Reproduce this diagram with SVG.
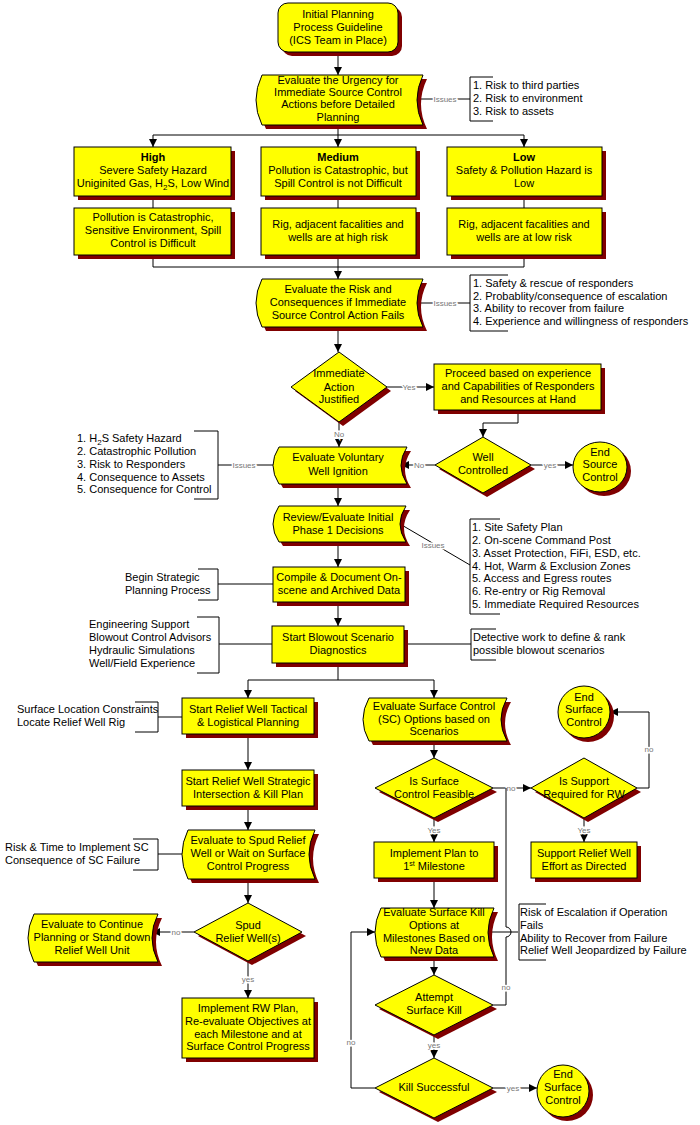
<svg xmlns="http://www.w3.org/2000/svg" width="700" height="1125" viewBox="0 0 700 1125">
<style>
.n{fill:#ffff00;stroke:#000;stroke-width:1}
.s{fill:#800000;stroke:none}
.t{font-family:"Liberation Sans",Arial,sans-serif;font-size:11px;fill:#000;text-anchor:middle}
.l{text-anchor:start}
.b{font-weight:bold}
.c{fill:none;stroke:#000;stroke-width:1}
.a{marker-end:url(#ah)}
.lb{font-family:"Liberation Sans",Arial,sans-serif;font-size:8px;fill:#777;text-anchor:middle;paint-order:stroke;stroke:#fff;stroke-width:3px}
</style>
<defs>
<marker id="ah" markerUnits="userSpaceOnUse" markerWidth="9" markerHeight="9" refX="8" refY="4" orient="auto">
<path d="M0,0 L8,4 L0,8 Z" fill="#000"/>
</marker>
</defs>
<rect width="700" height="1125" fill="#fff"/>

<g id="connectors">
<path class="c a" d="M338,52 V75"/>
<path class="c" d="M338,125 V135 M153,135 H524"/>
<path class="c a" d="M153,135 V147"/>
<path class="c a" d="M338,135 V147"/>
<path class="c a" d="M524,135 V147"/>
<path class="c" d="M153,196 V208 M338,196 V208 M524,196 V208"/>
<path class="c" d="M153,255 V267 H524 V255 M338,255 V267"/>
<path class="c a" d="M338,267 V279"/>
<path class="c" d="M417,99 H470 M493,77 H470 V121 H493"/>
<text class="lb" x="445" y="102">Issues</text>
<path class="c" d="M417,303 H470 M508,275 H470 V331 H508"/>
<text class="lb" x="445" y="306">Issues</text>
<path class="c a" d="M338,327 V352"/>
<path class="c a" d="M387,387 H434"/>
<text class="lb" x="409" y="390">Yes</text>
<path class="c a" d="M518,410 V423 H483 V437"/>
<path class="c a" d="M435,465 H401"/>
<text class="lb" x="419" y="468">No</text>
<path class="c a" d="M531,465 H573"/>
<text class="lb" x="550" y="468">yes</text>
<path class="c a" d="M339,422 V447"/>
<text class="lb" x="339" y="437">No</text>
<path class="c" d="M273,465 H218 M194,431 H218 V499 H194"/>
<text class="lb" x="244" y="468">Issues</text>
<path class="c a" d="M338,484 V506"/>
<path class="c" d="M400,524 L470,565 M500,519 H470 V614 H500"/>
<text class="lb" x="433" y="548">Issues</text>
<path class="c a" d="M338,542 V567"/>
<path class="c" d="M273,584 H218 M198,569 H218 V600 H198"/>
<path class="c a" d="M338,602 V626"/>
<path class="c" d="M272,644 H219 M197,617 H219 V673 H197"/>
<path class="c" d="M404,644 H471 M496,629 H471 V660 H496"/>
<path class="c" d="M338,663 V680 M248,680 H434"/>
<path class="c a" d="M248,680 V698"/>
<path class="c a" d="M434,680 V698"/>
<path class="c" d="M182,717 H158 M135,702 H158 V732 H135"/>
<path class="c a" d="M248,734 V770"/>
<path class="c a" d="M248,806 V830"/>
<path class="c" d="M182,854 H158 M133,839 H158 V870 H133"/>
<path class="c a" d="M248,879 V903"/>
<path class="c a" d="M194,932 H152"/>
<text class="lb" x="176" y="935">no</text>
<path class="c a" d="M248,961 V998"/>
<text class="lb" x="248" y="982">yes</text>
<path class="c a" d="M434,741 V758"/>
<path class="c a" d="M434,818 V842"/>
<text class="lb" x="434" y="833">Yes</text>
<path class="c a" d="M493,788 H531"/>
<text class="lb" x="511" y="791">no</text>
<path class="c a" d="M637,788 H649 V712 H610"/>
<text class="lb" x="649" y="752">no</text>
<path class="c a" d="M584,818 V842"/>
<text class="lb" x="584" y="833">Yes</text>
<path class="c a" d="M434,878 V908"/>
<path class="c" d="M488,932 H518 M546,904 H519 V960 H546"/>
<path class="c" d="M493,1005 H506 V937 A5,5 0 0 0 506,927 V788"/>
<text class="lb" x="506" y="990">no</text>
<path class="c a" d="M434,957 V975"/>
<path class="c a" d="M434,1035 V1058"/>
<text class="lb" x="434" y="1048">yes</text>
<path class="c a" d="M493,1088 H537"/>
<text class="lb" x="513" y="1091">yes</text>
<path class="c a" d="M375,1088 H351 V932 H375"/>
<text class="lb" x="351" y="1045">no</text>
</g>

<g id="n-start">
<rect class="s" x="282" y="7" width="120" height="49" rx="10"/>
<rect class="n" x="278" y="3" width="120" height="49" rx="10"/>
<text class="t" x="338" y="18">Initial Planning</text>
<text class="t" x="338" y="31">Process Guideline</text>
<text class="t" x="338" y="44">(ICS Team in Place)</text>
</g>

<g id="n-urgency">
<path class="s" transform="translate(4,4)" d="M262,75 H423 Q411,100 423,125 H262 Q250,100 262,75 Z"/>
<path class="n" d="M262,75 H423 Q411,100 423,125 H262 Q250,100 262,75 Z"/>
<text class="t" x="338" y="84">Evaluate the Urgency for</text>
<text class="t" x="338" y="96">Immediate Source Control</text>
<text class="t" x="338" y="108">Actions before Detailed</text>
<text class="t" x="338" y="121">Planning</text>
</g>
<g id="issues-urgency">
<text class="t l" x="473" y="89">1. Risk to third parties</text>
<text class="t l" x="473" y="102">2. Risk to environment</text>
<text class="t l" x="473" y="115">3. Risk to assets</text>
</g>

<g id="n-high">
<rect class="s" x="78" y="151" width="157" height="49"/>
<rect class="n" x="74" y="147" width="157" height="49"/>
<text class="t b" x="153" y="161">High</text>
<text class="t" x="153" y="174">Severe Safety Hazard</text>
<text class="t" x="153" y="187">Uniginited Gas, H<tspan font-size="8" dy="3">2</tspan><tspan dy="-3">S, Low Wind</tspan></text>
</g>
<g id="n-medium">
<rect class="s" x="265" y="151" width="155" height="49"/>
<rect class="n" x="261" y="147" width="155" height="49"/>
<text class="t b" x="338" y="161">Medium</text>
<text class="t" x="338" y="174">Pollution is Catastrophic, but</text>
<text class="t" x="338" y="187">Spill Control is not Difficult</text>
</g>
<g id="n-low">
<rect class="s" x="451" y="151" width="155" height="49"/>
<rect class="n" x="447" y="147" width="155" height="49"/>
<text class="t b" x="524" y="161">Low</text>
<text class="t" x="524" y="174">Safety &amp; Pollution Hazard is</text>
<text class="t" x="524" y="187">Low</text>
</g>
<g id="n-high2">
<rect class="s" x="78" y="212" width="157" height="47"/>
<rect class="n" x="74" y="208" width="157" height="47"/>
<text class="t" x="153" y="221">Pollution is Catastrophic,</text>
<text class="t" x="153" y="234">Sensitive Environment, Spill</text>
<text class="t" x="153" y="247">Control is Difficult</text>
</g>
<g id="n-medium2">
<rect class="s" x="265" y="212" width="155" height="47"/>
<rect class="n" x="261" y="208" width="155" height="47"/>
<text class="t" x="338" y="228">Rig, adjacent facalities and</text>
<text class="t" x="338" y="241">wells are at high risk</text>
</g>
<g id="n-low2">
<rect class="s" x="451" y="212" width="155" height="47"/>
<rect class="n" x="447" y="208" width="155" height="47"/>
<text class="t" x="524" y="228">Rig, adjacent facalities and</text>
<text class="t" x="524" y="241">wells are at low risk</text>
</g>

<g id="n-risk">
<path class="s" transform="translate(4,4)" d="M262,279 H423 Q411,303 423,327 H262 Q250,303 262,279 Z"/>
<path class="n" d="M262,279 H423 Q411,303 423,327 H262 Q250,303 262,279 Z"/>
<text class="t" x="338" y="293">Evaluate the Risk and</text>
<text class="t" x="338" y="306">Consequences if Immediate</text>
<text class="t" x="338" y="319">Source Control Action Fails</text>
</g>
<g id="issues-risk">
<text class="t l" x="473" y="287">1. Safety &amp; rescue of responders</text>
<text class="t l" x="473" y="300">2. Probablity/consequence of escalation</text>
<text class="t l" x="473" y="312">3. Ability to recover from failure</text>
<text class="t l" x="473" y="325">4. Experience and willingness of responders</text>
</g>

<g id="n-immediate">
<polygon class="s" transform="translate(4,4)" points="339,352 387,387 339,422 291,387"/>
<polygon class="n" points="339,352 387,387 339,422 291,387"/>
<text class="t" x="339" y="377">Immediate</text>
<text class="t" x="339" y="391">Action</text>
<text class="t" x="339" y="403">Justified</text>
</g>

<g id="n-proceed">
<rect class="s" x="438" y="368" width="167" height="46"/>
<rect class="n" x="434" y="364" width="167" height="46"/>
<text class="t" x="518" y="377">Proceed based on experience</text>
<text class="t" x="518" y="390">and Capabilities of Responders</text>
<text class="t" x="518" y="403">and Resources at Hand</text>
</g>

<g id="n-wellcontrolled">
<polygon class="s" transform="translate(4,4)" points="483,437 531,465 483,493 435,465"/>
<polygon class="n" points="483,437 531,465 483,493 435,465"/>
<text class="t" x="483" y="461">Well</text>
<text class="t" x="483" y="474">Controlled</text>
</g>

<g id="n-endsource">
<ellipse class="s" cx="604" cy="471" rx="27" ry="25"/>
<ellipse class="n" cx="600" cy="467" rx="27" ry="25"/>
<text class="t" x="600" y="456">End</text>
<text class="t" x="600" y="468">Source</text>
<text class="t" x="600" y="481">Control</text>
</g>

<g id="n-ignition">
<path class="s" transform="translate(4,4)" d="M279,447 H407 Q395,465.5 407,484 H279 Q267,465.5 279,447 Z"/>
<path class="n" d="M279,447 H407 Q395,465.5 407,484 H279 Q267,465.5 279,447 Z"/>
<text class="t" x="338" y="461">Evaluate Voluntary</text>
<text class="t" x="338" y="475">Well Ignition</text>
</g>
<g id="issues-ignition">
<text class="t l" x="77" y="442">1.  H<tspan font-size="8" dy="3">2</tspan><tspan dy="-3">S Safety Hazard</tspan></text>
<text class="t l" x="77" y="455">2. Catastrophic Pollution</text>
<text class="t l" x="77" y="468">3. Risk to Responders</text>
<text class="t l" x="77" y="481">4. Consequence to Assets</text>
<text class="t l" x="77" y="493">5. Consequence for Control</text>
</g>

<g id="n-review">
<path class="s" transform="translate(4,4)" d="M279,506 H406 Q394,524 406,542 H279 Q267,524 279,506 Z"/>
<path class="n" d="M279,506 H406 Q394,524 406,542 H279 Q267,524 279,506 Z"/>
<text class="t" x="338" y="521">Review/Evaluate Initial</text>
<text class="t" x="338" y="534">Phase 1 Decisions</text>
</g>
<g id="issues-review">
<text class="t l" x="472" y="531">1. Site Safety Plan</text>
<text class="t l" x="472" y="544">2. On-scene Command Post</text>
<text class="t l" x="472" y="557">3. Asset Protection,  FiFi, ESD, etc.</text>
<text class="t l" x="472" y="570">4. Hot, Warm &amp; Exclusion Zones</text>
<text class="t l" x="472" y="582">5. Access and Egress routes</text>
<text class="t l" x="472" y="595">6. Re-entry or Rig Removal</text>
<text class="t l" x="472" y="608">5. Immediate Required Resources</text>
</g>

<g id="n-compile">
<rect class="s" x="277" y="571" width="132" height="35"/>
<rect class="n" x="273" y="567" width="132" height="35"/>
<text class="t" x="339" y="581">Compile &amp; Document On-</text>
<text class="t" x="339" y="594">scene and Archived Data</text>
</g>
<g id="note-strategic">
<text class="t l" x="125" y="581">Begin Strategic</text>
<text class="t l" x="125" y="594">Planning Process</text>
</g>

<g id="n-blowout">
<rect class="s" x="276" y="630" width="132" height="37"/>
<rect class="n" x="272" y="626" width="132" height="37"/>
<text class="t" x="338" y="641">Start Blowout Scenario</text>
<text class="t" x="338" y="654">Diagnostics</text>
</g>
<g id="note-engineering">
<text class="t l" x="89" y="628">Engineering Support</text>
<text class="t l" x="89" y="641">Blowout Control Advisors</text>
<text class="t l" x="89" y="654">Hydraulic Simulations</text>
<text class="t l" x="89" y="667">Well/Field Experience</text>
</g>
<g id="note-detective">
<text class="t l" x="473" y="641">Detective work to define &amp; rank</text>
<text class="t l" x="473" y="654">possible blowout scenarios</text>
</g>

<g id="n-rwtactical">
<rect class="s" x="186" y="702" width="132" height="36"/>
<rect class="n" x="182" y="698" width="132" height="36"/>
<text class="t" x="248" y="713">Start Relief Well Tactical</text>
<text class="t" x="248" y="726">&amp; Logistical Planning</text>
</g>
<g id="note-surface">
<text class="t l" x="17" y="713">Surface Location Constraints</text>
<text class="t l" x="17" y="726">Locate Relief Well Rig</text>
</g>

<g id="n-rwstrategic">
<rect class="s" x="186" y="774" width="132" height="36"/>
<rect class="n" x="182" y="770" width="132" height="36"/>
<text class="t" x="248" y="785">Start Relief Well Strategic</text>
<text class="t" x="248" y="798">Intersection &amp; Kill Plan</text>
</g>

<g id="n-spudeval">
<path class="s" transform="translate(4,4)" d="M188,830 H315 Q303,854.5 315,879 H188 Q176,854.5 188,830 Z"/>
<path class="n" d="M188,830 H315 Q303,854.5 315,879 H188 Q176,854.5 188,830 Z"/>
<text class="t" x="248" y="844">Evaluate to Spud Relief</text>
<text class="t" x="248" y="857">Well or Wait on Surface</text>
<text class="t" x="248" y="870">Control Progress</text>
</g>
<g id="note-risktime">
<text class="t l" x="5" y="851">Risk &amp; Time to Implement SC</text>
<text class="t l" x="5" y="864">Consequence of SC Failure</text>
</g>

<g id="n-spud">
<polygon class="s" transform="translate(4,4)" points="248,903 302,932 248,961 194,932"/>
<polygon class="n" points="248,903 302,932 248,961 194,932"/>
<text class="t" x="248" y="929">Spud</text>
<text class="t" x="248" y="942">Relief Well(s)</text>
</g>

<g id="n-continue">
<path class="s" transform="translate(4,4)" d="M34,914 H158 Q146,938 158,962 H34 Q22,938 34,914 Z"/>
<path class="n" d="M34,914 H158 Q146,938 158,962 H34 Q22,938 34,914 Z"/>
<text class="t" x="92" y="928">Evaluate to Continue</text>
<text class="t" x="92" y="941">Planning or Stand down</text>
<text class="t" x="92" y="954">Relief Well Unit</text>
</g>

<g id="n-implementrw">
<rect class="s" x="186" y="1002" width="132" height="60"/>
<rect class="n" x="182" y="998" width="132" height="60"/>
<text class="t" x="248" y="1012">Implement RW Plan,</text>
<text class="t" x="248" y="1025">Re-evaluate Objectives at</text>
<text class="t" x="248" y="1038">each Milestone and at</text>
<text class="t" x="248" y="1050">Surface Control Progress</text>
</g>

<g id="n-sceval">
<path class="s" transform="translate(4,4)" d="M369,698 H507 Q495,719.5 507,741 H369 Q357,719.5 369,698 Z"/>
<path class="n" d="M369,698 H507 Q495,719.5 507,741 H369 Q357,719.5 369,698 Z"/>
<text class="t" x="434" y="710">Evaluate Surface Control</text>
<text class="t" x="434" y="723">(SC) Options based on</text>
<text class="t" x="434" y="735">Scenarios</text>
</g>

<g id="n-scfeasible">
<polygon class="s" transform="translate(4,4)" points="434,758 493,788 434,818 375,788"/>
<polygon class="n" points="434,758 493,788 434,818 375,788"/>
<text class="t" x="434" y="785">Is Surface</text>
<text class="t" x="434" y="798">Control Feasible</text>
</g>

<g id="n-support">
<polygon class="s" transform="translate(4,4)" points="584,758 637,788 584,818 531,788"/>
<polygon class="n" points="584,758 637,788 584,818 531,788"/>
<text class="t" x="584" y="785">Is Support</text>
<text class="t" x="584" y="798">Required for RW</text>
</g>

<g id="n-endsurface1">
<circle class="s" cx="588" cy="716" r="26"/>
<circle class="n" cx="584" cy="712" r="26"/>
<text class="t" x="584" y="701">End</text>
<text class="t" x="584" y="713">Surface</text>
<text class="t" x="584" y="726">Control</text>
</g>

<g id="n-supportrw">
<rect class="s" x="535" y="846" width="106" height="36"/>
<rect class="n" x="531" y="842" width="106" height="36"/>
<text class="t" x="584" y="857">Support Relief Well</text>
<text class="t" x="584" y="870">Effort as Directed</text>
</g>

<g id="n-implementplan">
<rect class="s" x="378" y="846" width="120" height="36"/>
<rect class="n" x="374" y="842" width="120" height="36"/>
<text class="t" x="434" y="857">Implement Plan to</text>
<text class="t" x="434" y="870">1<tspan font-size="7" dy="-4">st</tspan><tspan dy="4"> Milestone</tspan></text>
</g>

<g id="n-killeval">
<path class="s" transform="translate(4,4)" d="M381,908 H494 Q482,932.5 494,957 H381 Q369,932.5 381,908 Z"/>
<path class="n" d="M381,908 H494 Q482,932.5 494,957 H381 Q369,932.5 381,908 Z"/>
<text class="t" x="434" y="916">Evaluate Surface Kill</text>
<text class="t" x="434" y="929">Options at</text>
<text class="t" x="434" y="942">Milestones Based on</text>
<text class="t" x="434" y="954">New Data</text>
</g>
<g id="note-escalation">
<text class="t l" x="520" y="916">Risk of Escalation if Operation</text>
<text class="t l" x="520" y="929">Fails</text>
<text class="t l" x="520" y="942">Ability to Recover from Failure</text>
<text class="t l" x="520" y="954">Relief Well Jeopardized by Failure</text>
</g>

<g id="n-attempt">
<polygon class="s" transform="translate(4,4)" points="434,975 493,1005 434,1035 375,1005"/>
<polygon class="n" points="434,975 493,1005 434,1035 375,1005"/>
<text class="t" x="434" y="1001">Attempt</text>
<text class="t" x="434" y="1014">Surface Kill</text>
</g>

<g id="n-killsuccess">
<polygon class="s" transform="translate(4,4)" points="434,1058 493,1088 434,1118 375,1088"/>
<polygon class="n" points="434,1058 493,1088 434,1118 375,1088"/>
<text class="t" x="434" y="1091">Kill Successful</text>
</g>

<g id="n-endsurface2">
<circle class="s" cx="567" cy="1095" r="26"/>
<circle class="n" cx="563" cy="1091" r="26"/>
<text class="t" x="563" y="1078">End</text>
<text class="t" x="563" y="1091">Surface</text>
<text class="t" x="563" y="1104">Control</text>
</g>
</svg>
